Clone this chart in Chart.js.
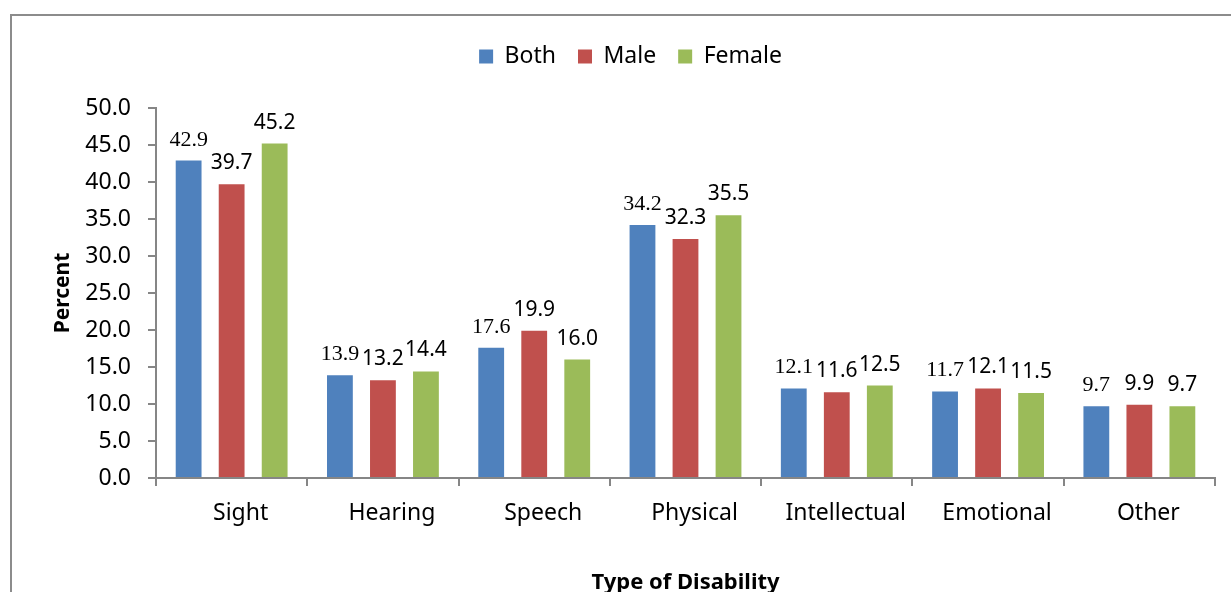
<!DOCTYPE html>
<html>
<head>
<meta charset="utf-8">
<script src="https://cdn.jsdelivr.net/npm/chart.js@4/dist/chart.umd.min.js"></script>
<style>
  html, body { margin: 0; padding: 0; background: #fff; overflow: hidden; }
  #wrap { position: relative; width: 1231px; height: 600px; }
  #frame { position: absolute; left: 10px; top: 14px; width: 1300px; height: 700px; border: 2px solid #8c8c8c; box-sizing: border-box; }
  canvas { position: absolute; left: 0; top: 0; }
</style>
</head>
<body>
<div id="wrap">
  <div id="frame"></div>
  <canvas id="disability-chart" width="1231" height="600"></canvas>
</div>
<script>
// datos
const categories = ["Sight", "Hearing", "Speech", "Physical", "Intellectual", "Emotional", "Other"];
const both = [42.9, 13.9, 17.6, 34.2, 12.1, 11.7, 9.7];
const male = [39.7, 13.2, 19.9, 32.3, 11.6, 12.1, 9.9];
const female = [45.2, 14.4, 16.0, 35.5, 12.5, 11.5, 9.7];
const yTicks = [0, 5, 10, 15, 20, 25, 30, 35, 40, 45, 50];

const axisColor = "#868686";
const sans = "'Noto Sans', 'DejaVu Sans', sans-serif";

// etiquetas encima de cada barra
const valueLabels = {
  id: "valueLabels",
  afterDatasetsDraw(chart) {
    const ctx = chart.ctx;
    chart.data.datasets.forEach((ds, i) => {
      const meta = chart.getDatasetMeta(i);
      ctx.save();
      ctx.fillStyle = "#000";
      ctx.textAlign = "center";
      ctx.textBaseline = "alphabetic";
      ctx.font = i === 0 ? "22px 'Liberation Serif', serif" : "21px " + sans;
      meta.data.forEach((bar, j) => {
        ctx.fillText(ds.data[j].toFixed(1), bar.x, bar.y - 15);
      });
      ctx.restore();
    });
  },
};

// más alto el bloque de la leyenda para bajar el área del gráfico
const legendHeight = {
  id: "legendHeight",
  beforeInit(chart) {
    const fit = chart.legend.fit;
    chart.legend.fit = function () {
      fit.bind(chart.legend)();
      this.height = 85;
    };
  },
};

let ctx = document.getElementById("disability-chart").getContext("2d");
let chart = new Chart(ctx, {
  type: "bar",
  data: {
    labels: categories,
    datasets: [
      { label: "Both", data: both, backgroundColor: "#4F81BD" },
      { label: "Male", data: male, backgroundColor: "#C0504D" },
      { label: "Female", data: female, backgroundColor: "#9BBB59" },
    ],
  },
  options: {
    responsive: false,
    animation: false,
    layout: { padding: { top: 23, left: 46, right: 16, bottom: 0 } },
    datasets: {
      bar: { categoryPercentage: 0.853, barPercentage: 0.6 },
    },
    plugins: {
      legend: {
        position: "top",
        labels: {
          boxWidth: 14,
          boxHeight: 14,
          padding: 22,
          color: "#000",
          font: { family: sans, size: 23 },
        },
      },
      tooltip: { enabled: false },
    },
    scales: {
      x: {
        grid: {
          offset: true,
          drawOnChartArea: false,
          tickLength: 8,
          color: axisColor,
          lineWidth: 2,
        },
        border: { color: axisColor, width: 2 },
        ticks: {
          color: "#000",
          padding: 14,
          labelOffset: 9,
          font: { family: sans, size: 23 },
        },
        title: {
          display: true,
          text: "Type of Disability",
          color: "#000",
          font: { family: sans, size: 22, weight: "bold" },
        },
        afterFit(scale) {
          scale.height = 122;
        },
      },
      y: {
        min: 0,
        max: 50,
        afterBuildTicks(scale) {
          scale.ticks = yTicks.map((v) => ({ value: v }));
        },
        grid: {
          drawOnChartArea: false,
          tickLength: 8,
          color: axisColor,
          lineWidth: 2,
        },
        border: { color: axisColor, width: 2 },
        ticks: {
          color: "#000",
          padding: 17,
          font: { family: sans, size: 23 },
          callback: (v) => Number(v).toFixed(1),
        },
        title: {
          display: true,
          text: "Percent",
          color: "#000",
          font: { family: sans, size: 21, weight: "bold" },
        },
        afterFit(scale) {
          scale.width = 110;
        },
      },
    },
  },
  plugins: [valueLabels, legendHeight],
});
</script>
</body>
</html>
